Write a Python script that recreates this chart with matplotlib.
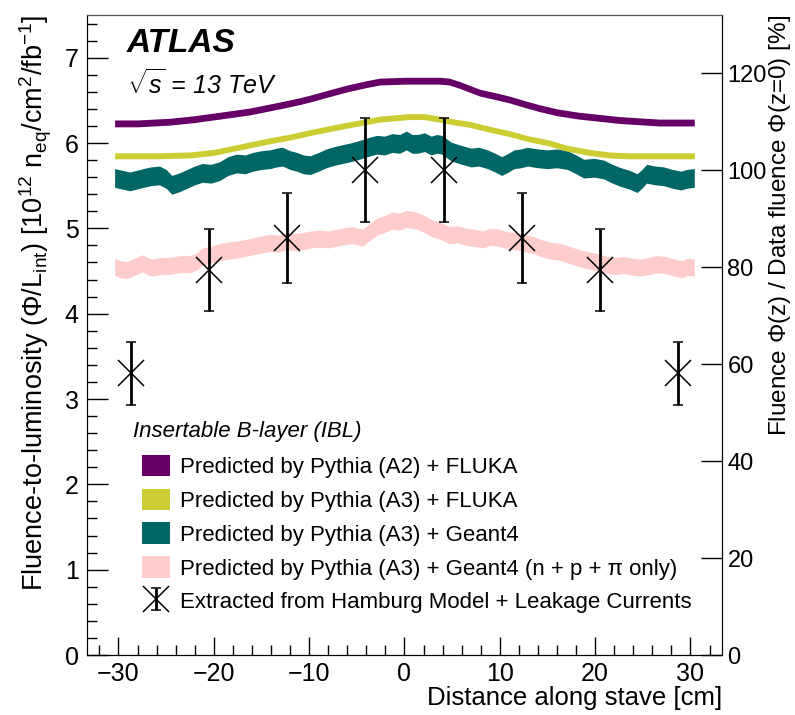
import matplotlib
matplotlib.use("Agg")
import matplotlib.pyplot as plt
from matplotlib.patches import Patch

plt.rcParams['font.family'] = ['Liberation Sans', 'DejaVu Sans']
plt.rcParams['mathtext.fontset'] = 'custom'
plt.rcParams['mathtext.rm'] = 'Liberation Sans'
plt.rcParams['mathtext.it'] = 'Liberation Sans:italic'
plt.rcParams['mathtext.bf'] = 'Liberation Sans:bold'

# Pythia (A2) + FLUKA
a2_fluka_z = [-30.4, -28.0, -24.6, -22.0, -19.4, -16.2, -13.1, -11.0, -9.6, -8.0,
              -6.0, -4.0, -2.6, 0.0, 1.6, 3.7, 4.7, 5.8, 6.5, 7.9,
              9.5, 11.0, 12.5, 14.1, 16.0, 18.3, 20.0, 22.5, 26.7, 30.4]
a2_fluka = [6.23, 6.23, 6.25, 6.28, 6.32, 6.37, 6.44, 6.49, 6.53, 6.58,
            6.64, 6.69, 6.72, 6.73, 6.73, 6.73, 6.72, 6.68, 6.65, 6.59,
            6.55, 6.51, 6.46, 6.41, 6.36, 6.32, 6.30, 6.27, 6.24, 6.24]

# Pythia (A3) + FLUKA
a3_fluka_z = [-30.4, -26.0, -22.5, -20.0, -18.3, -14.4, -12.0, -9.6, -6.0, -4.0,
              -2.6, 0.5, 2.0, 3.7, 5.0, 6.8, 9.0, 11.0, 13.0, 15.2,
              17.0, 19.4, 21.5, 23.6, 30.4]
a3_fluka = [5.85, 5.85, 5.86, 5.89, 5.93, 6.02, 6.07, 6.13, 6.21, 6.25,
            6.28, 6.31, 6.31, 6.28, 6.25, 6.22, 6.16, 6.11, 6.05, 6.00,
            5.94, 5.89, 5.86, 5.85, 5.85]

# Pythia (A3) + Geant4
a3_g4_z = [-30.4, -29.6, -28.8, -28.1, -27.4, -26.6, -25.7, -25.0, -24.4, -23.6,
           -22.8, -22.0, -21.2, -20.3, -19.4, -18.5, -17.6, -16.7, -15.9, -15.0,
           -14.1, -13.4, -12.8, -12.0, -11.3, -10.6, -9.9, -9.0, -8.2, -7.3,
           -6.5, -5.7, -5.0, -3.9, -2.9, -2.1, -1.3, -0.5, 0.2, 0.8,
           1.4, 2.1, 2.8, 3.4, 3.9, 4.4, 4.9, 6.0, 7.0, 7.8,
           8.7, 9.5, 10.2, 10.9, 11.5, 12.2, 12.9, 14.0, 15.0, 16.0,
           17.1, 18.0, 18.8, 19.9, 20.9, 21.8, 22.7, 23.6, 24.4, 24.9,
           25.4, 26.3, 27.2, 28.1, 29.0, 29.6, 30.4]
a3_g4 = [5.59, 5.57, 5.55, 5.57, 5.59, 5.61, 5.62, 5.58, 5.51, 5.54,
         5.58, 5.62, 5.65, 5.64, 5.67, 5.73, 5.76, 5.75, 5.78, 5.80,
         5.81, 5.83, 5.84, 5.80, 5.78, 5.75, 5.74, 5.78, 5.82, 5.85,
         5.87, 5.89, 5.91, 5.95, 5.98, 5.97, 6.00, 5.99, 6.03, 5.99,
         5.99, 6.01, 5.97, 5.99, 5.98, 5.94, 5.90, 5.86, 5.83, 5.84,
         5.81, 5.77, 5.73, 5.77, 5.81, 5.82, 5.84, 5.82, 5.81, 5.82,
         5.80, 5.75, 5.70, 5.71, 5.69, 5.64, 5.60, 5.57, 5.53, 5.58,
         5.64, 5.62, 5.61, 5.58, 5.56, 5.58, 5.59]

# Pythia (A3) + Geant4 (n + p + pi only)
npi_z = [-30.4, -29.8, -29.1, -28.3, -27.5, -27.0, -26.4, -25.5, -24.6, -23.6,
         -22.5, -21.8, -21.2, -20.3, -19.4, -18.5, -17.6, -16.7, -15.9, -15.0,
         -14.1, -13.2, -12.4, -11.5, -10.7, -9.8, -8.9, -8.0, -7.1, -6.2,
         -5.4, -4.4, -3.6, -2.9, -2.1, -1.3, -0.5, 0.2, 0.8, 1.3,
         2.1, 2.9, 3.8, 4.7, 5.6, 6.5, 7.3, 8.2, 9.0, 9.9,
         10.8, 11.7, 12.5, 13.4, 14.3, 15.2, 16.1, 17.0, 17.8, 18.6,
         19.5, 20.4, 21.3, 22.2, 23.0, 23.9, 24.8, 25.7, 26.5, 27.4,
         28.3, 29.1, 29.7, 30.4]
npi = [4.55, 4.52, 4.51, 4.55, 4.59, 4.56, 4.54, 4.56, 4.56, 4.58,
       4.58, 4.61, 4.67, 4.69, 4.72, 4.74, 4.75, 4.77, 4.79, 4.81,
       4.83, 4.82, 4.85, 4.84, 4.85, 4.87, 4.88, 4.87, 4.89, 4.91,
       4.92, 4.89, 4.96, 5.02, 5.05, 5.09, 5.08, 5.11, 5.10, 5.09,
       5.05, 5.00, 4.97, 4.92, 4.93, 4.90, 4.89, 4.87, 4.90, 4.89,
       4.86, 4.85, 4.83, 4.81, 4.77, 4.74, 4.73, 4.70, 4.67, 4.64,
       4.62, 4.60, 4.57, 4.56, 4.57, 4.55, 4.54, 4.56, 4.58, 4.57,
       4.54, 4.52, 4.55, 4.54]

# Extracted from Hamburg model + leakage currents
data_z = [-28.7, -20.5, -12.3, -4.1, 4.1, 12.3, 20.5, 28.7]
data_val = [3.30, 4.51, 4.89, 5.68, 5.68, 4.89, 4.51, 3.30]
data_err = [0.37, 0.48, 0.53, 0.61, 0.61, 0.53, 0.48, 0.37]

labels = ['Predicted by Pythia (A2) + FLUKA',
          'Predicted by Pythia (A3) + FLUKA',
          'Predicted by Pythia (A3) + Geant4',
          'Predicted by Pythia (A3) + Geant4 (n + p + \u03c0 only)',
          'Extracted from Hamburg Model + Leakage Currents']
colours = ['#660066', '#cccc33', '#006666', '#ffcccc']

fig = plt.figure(figsize=(7.95, 7.15), dpi=100)
ax = fig.add_axes([0.1094, 0.0839, 0.7987, 0.8951])


def band(z, v, hw, c):
    lo = [y - hw for y in v]
    hi = [y + hw for y in v]
    ax.fill_between(z, lo, hi, color=c, lw=0, zorder=2)


band(npi_z, npi, 0.10, colours[3])
band(a3_g4_z, a3_g4, 0.11, colours[2])
band(a3_fluka_z, a3_fluka, 0.035, colours[1])
band(a2_fluka_z, a2_fluka, 0.04, colours[0])

eb = ax.errorbar(data_z, data_val, yerr=data_err, fmt='x', color='black',
                 markersize=19, markeredgewidth=1.1, elinewidth=2.0,
                 capsize=3.5, capthick=2.0, zorder=4)

ax.set_xlim(-33.3, 33.3)
ax.set_ylim(0, 7.5)
ax.set_xticks(range(-30, 31, 10))
ax.set_xticks(range(-32, 33, 2), minor=True)
ax.set_yticks(range(0, 8))
ax.set_yticks([i * 0.2 for i in range(38)], minor=True)
ax.tick_params(which='both', direction='in', top=False, right=False,
               labelsize=18, width=1.0)
ax.tick_params(axis='y', which='major', length=15, pad=6)
ax.tick_params(axis='y', which='minor', length=7)
ax.tick_params(axis='x', which='major', length=13, pad=5)
ax.tick_params(axis='x', which='minor', length=7)

ax.set_xlabel('Distance along stave [cm]', fontsize=18.5, loc='right', labelpad=0)
ax.set_ylabel(r'Fluence-to-luminosity ($\Phi$/L$_{\rm int}$) '
              r'[10$^{12}$ n$_{\rm eq}$/cm$^{2}$/fb$^{-1}$]',
              fontsize=19.5, loc='top', labelpad=8)

ax2 = ax.twinx()
ax2.set_ylim(0, 7.5 / 5.68 * 100)
ax2.set_yticks(range(0, 121, 20))
ax2.tick_params(axis='y', direction='in', length=15, labelsize=17, pad=4, width=1.0)
ax2.set_ylabel(r'Fluence $\Phi$(z) / Data fluence $\Phi$(z=0) [%]',
               fontsize=17.5, loc='top', labelpad=0)
ax2.spines['top'].set_color('#555555')

ax.text(0.063, 0.98, 'ATLAS', transform=ax.transAxes, fontsize=24,
        fontweight='bold', fontstyle='italic', va='top')
ax.text(0.063, 0.915, r'$\sqrt{s}$ = 13 TeV', transform=ax.transAxes,
        fontsize=18, fontstyle='italic', va='top')
ax.text(0.073, 0.366, 'Insertable B-layer (IBL)', transform=ax.transAxes,
        fontsize=16, fontstyle='italic', va='top')

handles = [Patch(facecolor=c, edgecolor='none') for c in colours] + [eb]
ax.legend(handles, labels, loc='upper left', bbox_to_anchor=(0.0866, 0.313),
          frameon=False, fontsize=16, handlelength=1.26, handleheight=1.1,
          handletextpad=0.45, labelspacing=0.48, borderpad=0, borderaxespad=0)

fig.savefig('out.png', dpi=100)
